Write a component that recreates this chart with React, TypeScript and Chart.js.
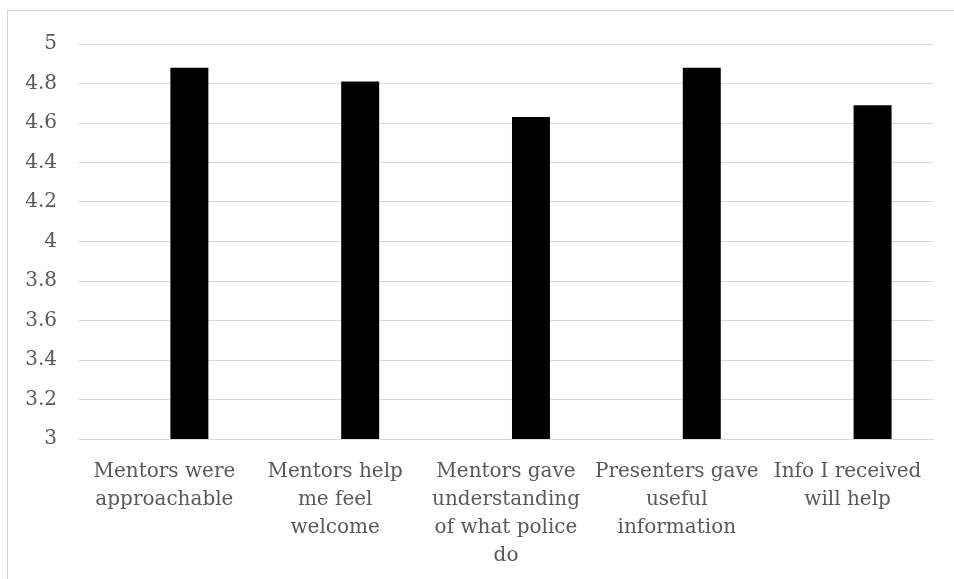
import React, { useEffect, useRef } from "react";
import { Chart, registerables } from "chart.js";

Chart.register(...registerables);

const categories: string[][] = [
  ["Mentors were", "approachable"],
  ["Mentors help", "me feel", "welcome"],
  ["Mentors gave", "understanding", "of what police", "do"],
  ["Presenters gave", "useful", "information"],
  ["Info I received", "will help"],
];
const hiddenSeries: (number | null)[] = [null, null, null, null, null];
const ratings: number[] = [4.88, 4.81, 4.63, 4.88, 4.69];
const yMin = 3;
const yMax = 5;
const yStep = 0.2;

export default function App() {
  const ref = useRef<HTMLCanvasElement>(null);
  useEffect(() => {
    if (!ref.current) return;
    const font = { family: "'DejaVu Serif', serif", size: 20 };
    const chart = new Chart(ref.current, {
      type: "bar",
      data: {
        labels: categories,
        datasets: [
          { label: "blank", data: hiddenSeries, backgroundColor: "#000000" },
          { label: "Rating", data: ratings, backgroundColor: "#000000" },
        ],
      },
      options: {
        responsive: false,
        animation: false,
        layout: { padding: { top: 44, right: 21, left: 0, bottom: 0 } },
        plugins: { legend: { display: false }, tooltip: { enabled: false } },
        datasets: { bar: { categoryPercentage: 0.585, barPercentage: 0.76 } },
        scales: {
          x: {
            grid: { display: false, drawTicks: false },
            border: { display: true, color: "#d9d9d9", width: 1 },
            ticks: {
              color: "#595959",
              font: { ...font, lineHeight: 1.4 },
              padding: 19,
              maxRotation: 0,
              autoSkip: false,
            },
            afterFit: (s: any) => {
              s.height = 140;
            },
          },
          y: {
            min: yMin,
            max: yMax,
            grid: { color: "#d9d9d9", lineWidth: 1, drawTicks: false },
            border: { display: false },
            ticks: {
              stepSize: yStep,
              color: "#595959",
              font,
              padding: 22,
              callback: (v: any) => String(Math.round(Number(v) * 10) / 10),
            },
            afterFit: (s: any) => {
              s.width = 79;
            },
          },
        },
      },
    });
    return () => chart.destroy();
  }, []);
  return (
    <div style={{ position: "fixed", left: 0, top: 0, width: 954, height: 579, background: "#fff", overflow: "hidden" }}>
      <div
        style={{
          position: "absolute",
          left: 7,
          top: 10,
          width: 1000,
          height: 700,
          border: "1px solid #d9d9d9",
          boxSizing: "border-box",
        }}
      />
      <canvas ref={ref} width={954} height={579} style={{ position: "absolute", left: 0, top: 0 }} />
    </div>
  );
}
